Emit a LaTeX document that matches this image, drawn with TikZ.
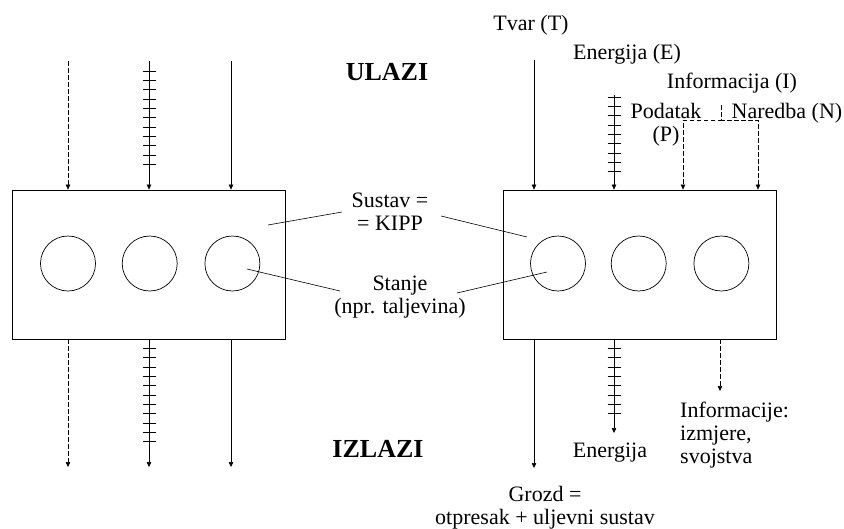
\documentclass[tikz,border=0pt]{standalone}
\usepackage{fontspec}
\setmainfont{Liberation Serif}
\usetikzlibrary{arrows.meta, positioning, decorations.markings}
\tikzstyle{sysbox} = [rectangle, draw=black, line width=0.8pt, minimum width=273pt, minimum height=149pt, inner sep=0pt]
\tikzstyle{stanje} = [circle, draw=black, line width=0.7pt, minimum size=55pt, inner sep=0pt]
\tikzstyle{flow} = [line width=0.6pt, -{Triangle[length=5pt,width=4.5pt]}]
\tikzstyle{info} = [flow, dash pattern=on 4.5pt off 2.5pt]
\tikzstyle{pointer} = [line width=0.6pt]
\tikzstyle{heading} = [font=\fontsize{26}{28}\selectfont\bfseries]
\tikzset{energy/.style 2 args={flow, postaction={decorate},
    decoration={markings, mark=between positions #1 and #2 step 9.33pt with {\draw[-, line width=0.6pt] (0,-6.5pt) -- (0,6.5pt);}}}}

\begin{document}
\begin{tikzpicture}[x=1pt, y=1pt, every node/.style={font=\fontsize{22}{23}\selectfont, inner sep=0pt}]
  \useasboundingbox (0,0) rectangle (844,-528);

  % the two systems with their states
  \node[sysbox] (lsys) at (148.5,-264.5) {};
  \node[sysbox] (rsys) at (639.5,-264.5) {};
  \node[stanje] (lc1) at (68,-263.5) {};
  \node[stanje, right=26pt of lc1] (lc2) {};
  \node[stanje, right=27pt of lc2] (lc3) {};
  \node[stanje] (rc1) at (558,-263.5) {};
  \node[stanje, right=25pt of rc1] (rc2) {};
  \node[stanje, right=27pt of rc2] (rc3) {};

  % left system: inputs and outputs
  \coordinate (lInfoIn) at (68,-61);
  \coordinate (lEnIn) at (149,-61);
  \coordinate (lTvarIn) at (231,-61);
  \coordinate (lInfoOut) at (68,-467);
  \coordinate (lEnOut) at (149,-467);
  \coordinate (lTvarOut) at (231,-467);
  \draw[info] (lInfoIn) -- (lInfoIn |- lsys.north);
  \draw[energy={10pt}{-16pt}] (lEnIn) -- (lEnIn |- lsys.north);
  \draw[flow] (lTvarIn) -- (lTvarIn |- lsys.north);
  \draw[info] (lInfoOut |- lsys.south) -- (lInfoOut);
  \draw[energy={9pt}{-16pt}] (lEnOut |- lsys.south) -- (lEnOut);
  \draw[flow] (lTvarOut |- lsys.south) -- (lTvarOut);

  % right system: inputs
  \coordinate (tvarIn) at (534,-60);
  \coordinate (enIn) at (614,-95);
  \coordinate (infoSplit) at (721,-105);
  \coordinate (podIn) at (683,-120);
  \coordinate (narIn) at (758,-120);
  \draw[flow] (tvarIn) -- (tvarIn |- rsys.north);
  \draw[energy={2pt}{-9pt}] (enIn) -- (enIn |- rsys.north);
  \draw[info] (infoSplit) |- (podIn) -- (podIn |- rsys.north);
  \draw[info] (infoSplit) |- (narIn) -- (narIn |- rsys.north);

  % right system: outputs
  \coordinate (grozdOut) at (534,-468);
  \coordinate (enOut) at (614,-433);
  \coordinate (infoOut) at (720,-391);
  \draw[flow] (grozdOut |- rsys.south) -- (grozdOut);
  \draw[energy={9pt}{-10pt}] (enOut |- rsys.south) -- (enOut);
  \draw[info] (infoOut |- rsys.south) -- (infoOut);

  % labels (multi-line ones sit on the baseline of their last line)
  \node[anchor=base] (tvar) at (531,-30) {Tvar (T)};
  \node[anchor=base] (energijaE) at (627,-59) {Energija (E)};
  \node[anchor=base] (informacija) at (732,-88) {Informacija (I)};
  \node[anchor=base, align=center] (podatak) at (666,-141) {Podatak\\(P)};
  \node[anchor=base] (naredba) at (787,-118) {Naredba (N)};
  \node[heading, anchor=base] (ulazi) at (387,-80) {ULAZI};
  \node[heading, anchor=base] (izlazi) at (378,-457) {IZLAZI};
  \node[anchor=base, align=center] (sustav) at (390,-230) {Sustav =\\= KIPP};
  \node[anchor=base, align=center] (stanjeLbl) at (400,-313) {Stanje\\(npr. taljevina)};
  \node[anchor=base] (energija) at (610,-457) {Energija};
  \node[anchor=base west, align=left] (informacije) at (680,-463) {Informacije:\\izmjere,\\svojstva};
  \node[anchor=base, align=center] (grozd) at (545,-524) {Grozd =\\otpresak + uljevni sustav};

  % pointers from the labels into the boxes
  \coordinate (sustavW) at (342,-212);
  \coordinate (sustavE) at (441,-216);
  \coordinate (lsysPt) at (268,-225);
  \coordinate (rsysPt) at (527,-237);
  \coordinate (stanjeW) at (340,-291);
  \coordinate (stanjeE) at (457,-293);
  \coordinate (lc3Pt) at (247,-269);
  \coordinate (rc1Pt) at (547,-272);
  \draw[pointer] (sustavW) -- (lsysPt);
  \draw[pointer] (sustavE) -- (rsysPt);
  \draw[pointer] (stanjeW) -- (lc3Pt);
  \draw[pointer] (stanjeE) -- (rc1Pt);
\end{tikzpicture}
\end{document}
